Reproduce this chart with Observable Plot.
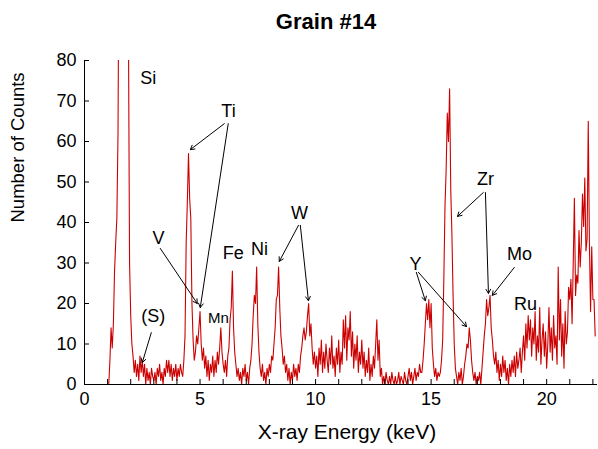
<!DOCTYPE html>
<html><head><meta charset="utf-8">
<script src="https://cdn.jsdelivr.net/npm/d3@7"></script>
<script src="https://cdn.jsdelivr.net/npm/@observablehq/plot@0.6"></script>
<style>
body{margin:0;background:#fff;font-family:"Liberation Sans",Arial,Helvetica,sans-serif;}
#title{height:42px;line-height:44px;text-align:center;font-weight:bold;font-size:22px;padding-left:54px;color:#000;}
#chart svg{display:block;}
</style></head><body>
<div id="title">Grain #14</div>
<div id="chart"></div>
<script>
// Spectrum: detector channels of 0.05 keV starting at 1.00 keV
const channelStart = 1.0;
const channelWidth = 0.05;
const counts = [
  // 1.00 - 1.95
  0,0,6,14,9,15,28,35,41,62,120,200,300,400,450,420,300,180,90,30,
  // 2.00 - 2.95
  17,10,7,3,6,2,5,1,7,3,6,2,5,0,4,1,3,0,4,2,
  // 3.00 - 3.95
  1,3,0,4,2,5,1,3,0,4,2,6,3,6,2,5,1,4,2,5,
  // 4.00 - 4.95
  1,4,2,5,3,2,6,12,35,45,57,46,41,20,11,6,8,12,10,14,
  // 5.00 - 5.95
  18,10,6,9,4,7,2,6,1,5,3,7,2,6,3,8,5,9,14,8,
  // 6.00 - 6.95
  5,3,6,2,7,9,16,19,28,14,8,5,2,4,1,3,0,4,2,5,
  // 7.00 - 7.95
  1,3,0,4,6,10,17,22,20,29,15,8,4,2,5,1,3,0,4,2,
  // 8.00 - 8.95
  5,3,7,6,10,14,21,22,29,19,12,9,5,7,3,5,1,4,0,3,
  // 9.00 - 9.95
  1,5,2,4,1,5,3,7,9,12,14,11,13,17,20,12,15,9,5,8,
  // 10.00 - 10.95
  4,7,2,9,5,11,3,8,4,10,6,3,9,5,12,4,7,2,9,5,
  // 11.00 - 11.95
  11,3,8,5,16,9,17,6,14,11,18,7,13,4,10,6,12,3,8,5,
  // 12.00 - 12.95
  11,4,8,2,6,3,9,1,5,2,7,4,10,16,6,11,2,4,0,2,
  // 13.00 - 13.95
  0,3,1,0,2,0,3,1,0,2,0,1,3,0,2,1,0,3,1,0,
  // 14.00 - 14.95
  2,4,1,3,0,2,4,1,3,2,5,3,3,6,10,15,20,16,21,14,
  // 15.00 - 15.95
  20,9,5,2,4,1,3,2,3,6,11,26,44,53,67,60,73,48,37,22,
  // 16.00 - 16.95
  10,4,2,0,3,1,4,0,2,5,7,10,9,14,11,6,3,1,3,0,
  // 17.00 - 17.95
  2,1,3,0,4,8,12,15,21,17,19,22,14,11,7,5,8,3,6,1,
  // 18.00 - 18.95
  5,2,7,3,6,1,4,0,5,2,6,3,7,2,8,4,6,9,3,8,
  // 19.00 - 19.95
  12,6,15,9,17,11,16,7,14,10,18,6,12,8,19,5,11,15,7,13,
  // 20.00 - 20.95
  4,10,19,8,14,6,17,9,12,5,29,11,21,7,15,4,18,10,13,24,
  // 21.00 - 21.95
  21,26,15,30,46,22,27,25,38,29,35,47,39,51,33,36,65,35,18,34,
  // 22.00 - 22.10
  21,21,12
];

const xDomain = [0, 22.2];
const yDomain = [0, 80];
const xTickLabels = [0, 5, 10, 15, 20];
const xMinorTicks = [0,1,2,3,4,5,6,7,8,9,10,11,12,13,14,15,16,17,18,19,20,21,22];
const yTicks = [0, 10, 20, 30, 40, 50, 60, 70, 80];

// Element labels (energy keV, counts)
const labelText = ["Si", "Ti", "V", "(S)", "Mn", "Fe", "Ni", "W", "Y", "Zr", "Mo", "Ru"];
const labelX    = [2.76, 6.23, 3.20, 2.98, 5.80, 6.44, 7.57, 9.30, 14.32, 17.35, 18.82, 19.08];
const labelY    = [75.6, 67.4, 36.0, 16.8, 16.3, 32.3, 33.3, 42.2, 29.6, 50.6, 32.1, 19.8];
const labelSize = [18, 18, 18, 18, 15, 18, 18, 18, 18, 18, 18, 18];

// Annotation arrows: from label to peak
const arrowX1 = [6.05, 6.22, 3.28, 2.89, 9.26, 9.34, 14.36, 14.45, 17.26, 17.35, 18.60];
const arrowY1 = [64.4, 64.4, 33.6, 12.8, 39.3, 39.3, 27.7, 27.7, 47.4, 47.4, 28.9];
const arrowX2 = [4.58, 5.01, 4.88, 2.50, 8.43, 9.69, 14.75, 16.53, 16.14, 17.48, 17.65];
const arrowY2 = [58.0, 19.0, 20.0, 5.4, 30.4, 20.7, 20.7, 14.3, 41.5, 22.5, 22.0];

const spectrum = counts.map((c, i) => ({energy: +(channelStart + i * channelWidth).toFixed(2), counts: c}));
const labels = labelText.map((t, i) => ({t, x: labelX[i], y: labelY[i], s: labelSize[i]}));
const arrows = arrowX1.map((x1, i) => ({x1, y1: arrowY1[i], x2: arrowX2[i], y2: arrowY2[i]}));

const width = 598, height = 407;
const mL = 84, mR = 1, mT = 18, mB = 65;
const plotW = width - mL - mR, plotH = height - mT - mB;

const chart = Plot.plot({
  width, height,
  marginLeft: mL, marginRight: mR, marginTop: mT, marginBottom: mB,
  style: {fontFamily: "'Liberation Sans', Arial, Helvetica, sans-serif", fontSize: "18px", color: "#000", background: "#fff", overflow: "visible"},
  x: {domain: xDomain, axis: null},
  y: {domain: yDomain, axis: null},
  marks: [
    Plot.line(spectrum, {x: "energy", y: "counts", stroke: "#cc0000", strokeWidth: 1.1, clip: true}),
    Plot.ruleY([0], {stroke: "#000"}),
    Plot.ruleX([0], {stroke: "#000"}),
    Plot.tickX(xMinorTicks, {x: d => d, stroke: "#000", insetTop: plotH - 5}),
    Plot.tickY(yTicks, {y: d => d, stroke: "#000", insetRight: plotW - 5}),
    Plot.axisX({ticks: xTickLabels, tickSize: 0, tickPadding: 8, fontSize: 18, label: null}),
    Plot.axisY({ticks: yTicks, tickSize: 0, tickPadding: 8, fontSize: 18, label: null}),
    Plot.text(["X-ray Energy (keV)"], {frameAnchor: "bottom", dy: 54, dx: 6, fontSize: 21, fill: "#000"}),
    Plot.text(["Number of Counts"], {frameAnchor: "left", dx: -66, rotate: -90, fontSize: 18.5, fill: "#000"}),
    Plot.arrow(arrows, {x1: "x1", y1: "y1", x2: "x2", y2: "y2", stroke: "#000", strokeWidth: 1, headLength: 7, bend: 0}),
    Plot.text(labels, {x: "x", y: "y", text: "t", fontSize: d => d.s, fill: "#000"})
  ]
});
document.getElementById("chart").appendChild(chart);
</script>
</body></html>
